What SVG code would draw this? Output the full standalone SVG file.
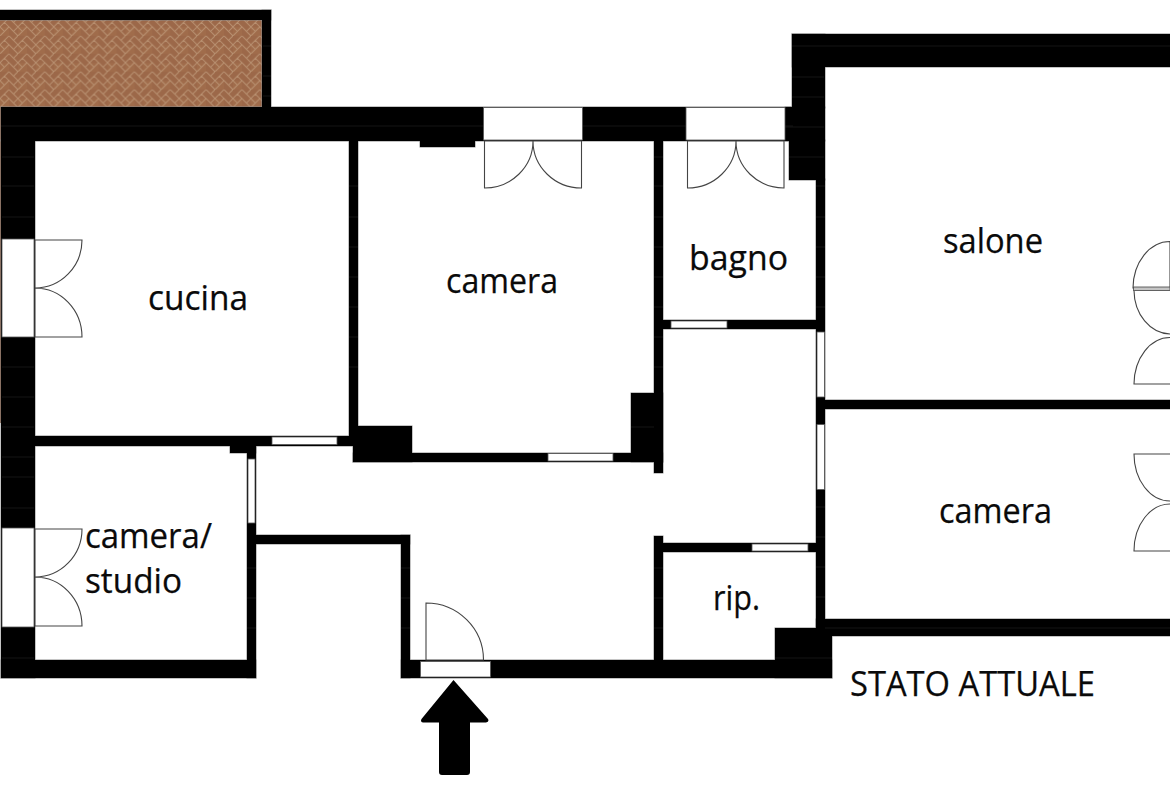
<svg xmlns="http://www.w3.org/2000/svg" width="1170" height="785" viewBox="0 0 1170 785">
<style>
.lbl{font-family:"Open Sans","Noto Sans","Liberation Sans",sans-serif;fill:#0a0a0a;stroke:#0a0a0a;stroke-width:.25;font-size:34px}
.win{fill:#fff;stroke:#555;stroke-width:.8}
.door{fill:#fff;stroke:#444;stroke-width:1.1}
.tick{fill:none;stroke:#1c1c1c;stroke-width:.7}
</style>
<defs>
<pattern id="brick" width="16" height="16" patternUnits="userSpaceOnUse" patternTransform="scale(1.12)">
<rect width="16" height="16" fill="#9c6849"/>
<rect x="0" y="8" width="8" height="8" fill="#a06c4b"/>
<path d="M0 8L8 0L16 8M0 16L8 8L16 16M4 4L8 8M12 12L16 8M0 8L4 12M12 4L16 0" fill="none" stroke="#bb9474" stroke-width=".9"/>
</pattern>
<g id="wallshape">
<rect x="0" y="10" width="271" height="10"/>
<rect x="262" y="10" width="9" height="98"/>
<rect x="1" y="107" width="792" height="34"/>
<rect x="792" y="34" width="378" height="33"/>
<rect x="792" y="34" width="33" height="74"/>
<rect x="785" y="107" width="40" height="34"/>
<rect x="789" y="140" width="36" height="40"/>
<rect x="816" y="179" width="9" height="450"/>
<rect x="1" y="140" width="34" height="538"/>
<rect x="1" y="660" width="255" height="18"/>
<rect x="247" y="445" width="9" height="233"/>
<rect x="35" y="436" width="323" height="10"/>
<rect x="230" y="445" width="26" height="8"/>
<rect x="349" y="140" width="9" height="300"/>
<rect x="353" y="426" width="59" height="36"/>
<rect x="353" y="453" width="310" height="9"/>
<rect x="420" y="140" width="55" height="7"/>
<rect x="654" y="140" width="9" height="333"/>
<rect x="631" y="393" width="32" height="69"/>
<rect x="663" y="320" width="153" height="9"/>
<rect x="825" y="400" width="345" height="9"/>
<rect x="256" y="535" width="154" height="9"/>
<rect x="401" y="535" width="9" height="143"/>
<rect x="401" y="660" width="431" height="18"/>
<rect x="654" y="536" width="9" height="125"/>
<rect x="663" y="543" width="153" height="9"/>
<rect x="775" y="628" width="57" height="50"/>
<rect x="816" y="619" width="354" height="17"/>
</g>
</defs>
<rect width="1170" height="785" fill="#fff"/>
<g id="terrace"><rect x="0" y="20" width="262" height="87" fill="url(#brick)"/><rect x="0" y="107" width="1.500" height="316" fill="#8a5a3e"/></g>
<g id="walls">
<use href="#wallshape" fill="#000" stroke="#8a8a8a" stroke-width="1"/>
<use href="#wallshape" fill="#000"/>
<path class="tick" d="M1 126H793M792 46H1170M792 77H824M792 97H824M785 127H824M789 157H824M816 186H825M816 217H825M816 247H825M816 277H825M816 307H825M816 507H825M816 537H825M816 567H825M816 597H825M2 157H34M2 186H34M2 217H34M2 367H34M2 397H34M2 427H34M2 457H34M2 477H34M2 508H34M2 658H34M349 186H358M349 217H358M349 247H358M349 277H358M349 307H358M349 337H358M349 367H358M263 46H271M263 76H271M263 96H271M247 568H256M247 598H256M247 628H256M401 568H410M401 598H410M401 628H410M654 157H663M654 186H663M654 217H663M654 247H663M654 277H663M654 307H663M654 337H663M654 367H663M631 427H654M654 568H663M654 598H663M654 628H663M825 628H1170M775 658H832"/>
</g>
<g id="windows">
<rect class="win" x="483.500" y="107.500" width="99" height="32.500"/>
<rect class="win" x="686" y="107.500" width="99" height="32.500"/>
<rect class="win" x="2" y="239" width="32" height="98"/>
<rect class="win" x="2" y="528" width="32" height="99"/>
<rect class="win" x="272" y="437" width="65" height="7.500"/>
<rect class="win" x="248" y="459" width="7" height="64"/>
<rect class="win" x="548" y="453.500" width="65" height="7.500"/>
<rect class="win" x="671" y="321" width="56" height="7"/>
<rect class="win" x="817" y="332" width="7.500" height="65"/>
<rect class="win" x="817" y="424.500" width="7.500" height="65"/>
<rect class="win" x="752" y="544" width="56" height="7"/>
<rect class="win" x="420.500" y="661.500" width="70" height="15.500"/>
</g>
<g id="doors">
<path class="door" d="M484.500 141V188A48.500 47 0 0 0 533 141A48.500 47 0 0 0 581.500 188V141Z"/>
<path class="door" d="M687.500 141V188A48.500 47 0 0 0 736 141A48 47 0 0 0 784 188V141Z"/>
<path class="door" d="M35 240H82A47 48 0 0 1 35 288A47 49 0 0 1 82 337H35Z"/>
<path class="door" d="M35 529H82A47 48 0 0 1 35 577A47 49 0 0 1 82 626H35Z"/>
<path class="door" d="M426 660V603A57.500 57 0 0 1 483.500 660Z"/>
<path class="door" d="M1170 241.500A37 47 0 0 0 1133 288H1170Z"/>
<rect x="1133.500" y="287" width="36.500" height="3.500" fill="#c4c4c4" stroke="#444" stroke-width=".8"/>
<path class="door" d="M1134 290.500A37 44 0 0 0 1170 334"/>
<path class="door" d="M1170 337.500A36 47 0 0 0 1134 384H1170"/>
<path class="door" d="M1170 454H1134A36 47 0 0 0 1170 501"/>
<path class="door" d="M1170 504A36 47 0 0 0 1134 551H1170"/>
</g>
<path id="entry-arrow" d="M453.500 680L488 719Q489.500 722 486 722.500H470V772Q470 775 467 775H442Q439 775 439 772V722.500H423Q420 722 421.500 719Z" fill="#000"/>
<g id="labels">
<text class="lbl" x="148" y="310" textLength="100" lengthAdjust="spacingAndGlyphs">cucina</text>
<text class="lbl" x="446" y="293" textLength="112" lengthAdjust="spacingAndGlyphs">camera</text>
<text class="lbl" x="689" y="270" textLength="99" lengthAdjust="spacingAndGlyphs">bagno</text>
<text class="lbl" x="943" y="253" textLength="100" lengthAdjust="spacingAndGlyphs">salone</text>
<text class="lbl" x="939" y="523" textLength="113" lengthAdjust="spacingAndGlyphs">camera</text>
<text class="lbl" x="85" y="548" textLength="127" lengthAdjust="spacingAndGlyphs">camera/</text>
<text class="lbl" x="85" y="593" textLength="97" lengthAdjust="spacingAndGlyphs">studio</text>
<text class="lbl" x="713" y="610" textLength="47" lengthAdjust="spacingAndGlyphs">rip.</text>
<text class="lbl" x="850" y="696" textLength="245" lengthAdjust="spacingAndGlyphs">STATO ATTUALE</text>
</g>
</svg>
